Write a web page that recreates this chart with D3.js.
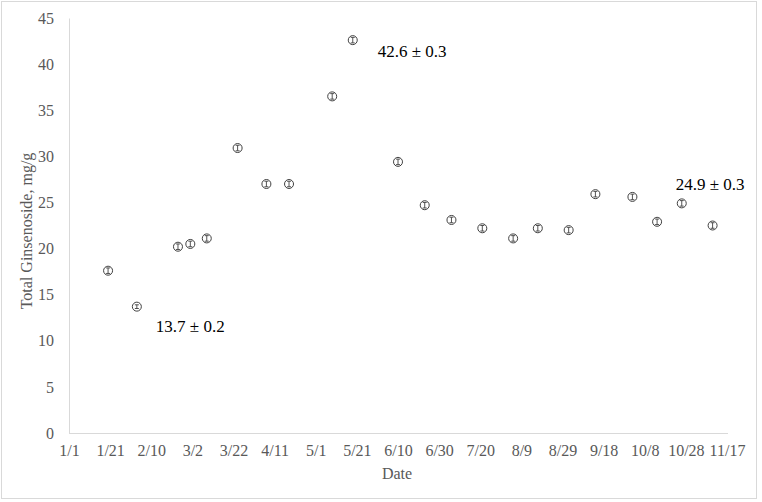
<!DOCTYPE html>
<html>
<head>
<meta charset="utf-8">
<script src="https://cdn.jsdelivr.net/npm/d3@7"></script>
<style>
  body { margin: 0; background: #fff; }
  svg { display: block; }
  text { font-family: "Liberation Serif", "Times New Roman", serif; }
</style>
</head>
<body>
<svg id="chart" width="762" height="502"></svg>
<script>
// sampling dates (month/day) and total ginsenoside, mg/g
var sampleDates = ["1/20", "2/3", "2/23", "3/1", "3/9", "3/24", "4/7", "4/18", "5/9", "5/19",
  "6/10", "6/23", "7/6", "7/21", "8/5", "8/17", "9/1", "9/14", "10/2", "10/14", "10/26", "11/10"];
var ginsenoside = [17.6, 13.7, 20.2, 20.5, 21.1, 30.9, 27.0, 27.0, 36.5, 42.6,
  29.4, 24.7, 23.1, 22.2, 21.1, 22.2, 22.0, 25.9, 25.6, 22.9, 24.9, 22.5];
var stdDev = [0.3, 0.2, 0.3, 0.3, 0.3, 0.3, 0.3, 0.3, 0.3, 0.3,
  0.3, 0.3, 0.3, 0.3, 0.3, 0.3, 0.3, 0.3, 0.3, 0.3, 0.3, 0.3];

var xTickLabels = ["1/1", "1/21", "2/10", "3/2", "3/22", "4/11", "5/1", "5/21", "6/10",
  "6/30", "7/20", "8/9", "8/29", "9/18", "10/8", "10/28", "11/17"];
var yTicks = [0, 5, 10, 15, 20, 25, 30, 35, 40, 45];

// points that get a value label
var labelled = [1, 9, 20];

var parseDate = function(s) { return d3.timeParse("%m/%d/%Y")(s + "/2015"); };

var svg = d3.select("#chart");
const serif = "'Liberation Serif', 'Times New Roman', serif";
const axisColor = "#d9d9d9";
const textColor = "#595959";

// outer frame
svg.append("rect")
  .attr("x", 1.5).attr("y", 1.5)
  .attr("width", 755).attr("height", 497)
  .attr("fill", "none")
  .attr("stroke", axisColor);

var x = d3.scaleTime()
  .domain([parseDate("1/1"), parseDate("11/17")])
  .range([69, 727]);

var y = d3.scaleLinear()
  .domain([0, 45])
  .range([433, 18]);

// axes: plain lines, no ticks
var yAxis = d3.axisLeft(y).tickValues(yTicks).tickSize(0).tickPadding(15);
var gy = svg.append("g")
  .attr("transform", "translate(69,0)")
  .call(yAxis);
gy.select(".domain").attr("stroke", axisColor);
gy.selectAll("text")
  .attr("fill", textColor)
  .style("font-size", "16px")
  .style("font-family", serif);

var xAxis = d3.axisBottom(x)
  .tickValues(xTickLabels.map(parseDate))
  .tickFormat(function(d, i) { return xTickLabels[i]; })
  .tickSize(0)
  .tickPadding(12);
var gx = svg.append("g")
  .attr("transform", "translate(0,433)")
  .call(xAxis);
gx.select(".domain").attr("stroke", axisColor).attr("d", "M69,0.5H728");
gx.selectAll("text")
  .attr("fill", textColor)
  .style("font-size", "16px")
  .style("font-family", serif);

// axis titles
svg.append("text")
  .attr("transform", "translate(32,231) rotate(-90)")
  .attr("text-anchor", "middle")
  .attr("fill", textColor)
  .style("font-size", "16px")
  .style("font-family", serif)
  .text("Total Ginsenoside, mg/g");

svg.append("text")
  .attr("x", 397).attr("y", 479)
  .attr("text-anchor", "middle")
  .attr("fill", textColor)
  .style("font-size", "16px")
  .style("font-family", serif)
  .text("Date");

// markers with error bars drawn inside
var pts = svg.append("g").classed("points", true);
ginsenoside.forEach(function(v, i) {
  var cx = x(parseDate(sampleDates[i]));
  var cy = y(v);
  var g = pts.append("g");
  g.append("circle")
    .attr("cx", cx).attr("cy", cy)
    .attr("r", 4.5)
    .attr("fill", "#fff")
    .attr("stroke", "#404040")
    .attr("stroke-width", 1);
  var top = y(v + stdDev[i]), bot = y(v - stdDev[i]);
  g.append("path")
    .attr("d", "M" + cx + "," + top + "V" + bot +
      "M" + (cx - 2) + "," + top + "H" + (cx + 2) +
      "M" + (cx - 2) + "," + bot + "H" + (cx + 2))
    .attr("fill", "none")
    .attr("stroke", "#404040")
    .attr("stroke-width", 0.9);
});

// value labels
var labelOffset = { 1: [19, 25], 9: [25, 17], 20: [-6, -13] };
labelled.forEach(function(i) {
  var cx = x(parseDate(sampleDates[i]));
  var cy = y(ginsenoside[i]);
  svg.append("text")
    .attr("x", cx + labelOffset[i][0])
    .attr("y", cy + labelOffset[i][1])
    .attr("fill", "#000")
    .style("font-size", "17px")
    .style("font-family", serif)
    .text(ginsenoside[i].toFixed(1) + " \u00b1 " + stdDev[i].toFixed(1));
});
</script>
</body>
</html>
